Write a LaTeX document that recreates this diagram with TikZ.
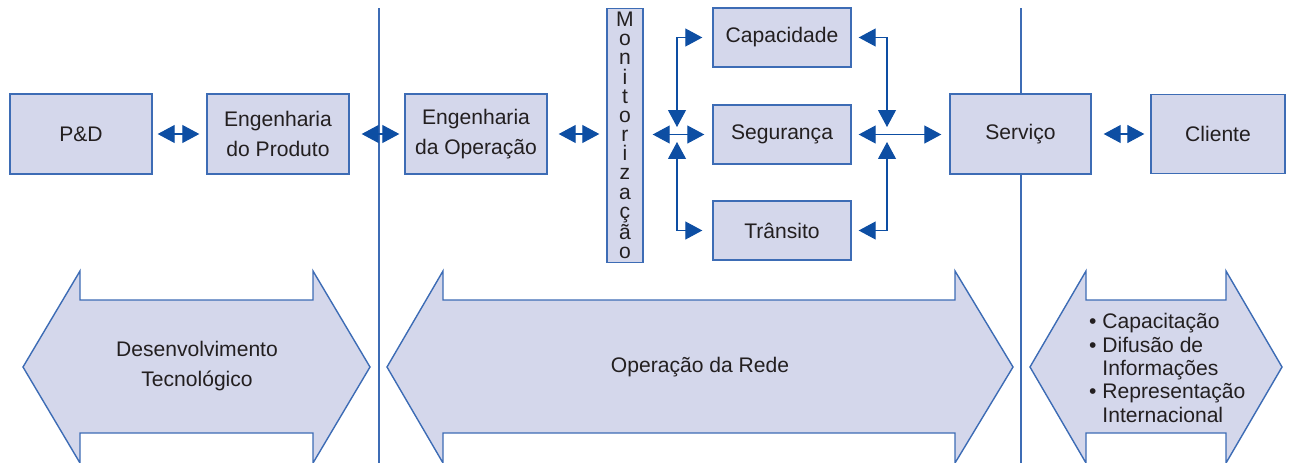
\documentclass[tikz,border=0pt]{standalone}
\usepackage{fontspec}
\setmainfont{Liberation Sans}
\usetikzlibrary{arrows.meta}
\definecolor{boxfill}{HTML}{D4D7EB}
\definecolor{boxline}{HTML}{3D6CB5}
\definecolor{tipblue}{HTML}{0D4EA3}
\definecolor{txt}{HTML}{231F20}
\tikzset{
    box/.style={draw=boxline, fill=boxfill, line width=0.8pt, text=txt, align=center,
        inner sep=0pt, font=\fontsize{12}{17}\selectfont},
    link/.style={draw=tipblue, line width=0.6pt,
        {Triangle[length=0.34cm,width=0.36cm]}-{Triangle[length=0.34cm,width=0.36cm]}},
    band/.style={draw=boxline, fill=boxfill, line width=0.8pt},
    divider/.style={draw=boxline, line width=0.8pt},
    label/.style={text=txt, align=center, font=\fontsize{12}{17.5}\selectfont}
}
\begin{document}
\begin{tikzpicture}[x=0.02cm,y=-0.02cm]
    \useasboundingbox (0,0) rectangle (1291,463);

    % dividers
    \draw[divider] (379,8) -- (379,463);
    \draw[divider] (1021,8) -- (1021,463);

    % block arrows
    \draw[band] (23,367) -- (80,271) -- (80,300) -- (313,300) -- (313,271) -- (370,367)
        -- (313,463) -- (313,433) -- (80,433) -- (80,463) -- cycle;
    \draw[band] (387,367) -- (443,271) -- (443,300) -- (955,300) -- (955,271) -- (1013,367)
        -- (955,463) -- (955,433) -- (443,433) -- (443,463) -- cycle;
    \draw[band] (1030,367) -- (1086,271) -- (1086,300) -- (1226,300) -- (1226,271) -- (1282,367)
        -- (1226,463) -- (1226,433) -- (1086,433) -- (1086,463) -- cycle;

    \node[label] (desenv) at (197,366) {Desenvolvimento\\Tecnológico};
    \node[label] (operacao) at (700,367) {Operação da Rede};
    \node[label, anchor=west, align=left, font=\fontsize{12}{13.3}\selectfont] (acoes) at (1083,368)
        {\textbullet\ Capacitação\\
         \textbullet\ Difusão de\\
         \hphantom{\textbullet\ }Informações\\
         \textbullet\ Representação\\
         \hphantom{\textbullet\ }Internacional};

    % boxes
    \node[box, minimum width=2.84cm, minimum height=1.6cm] (pd) at (81,134) {P\&D};
    \node[box, minimum width=2.84cm, minimum height=1.6cm] (engprod) at (278,134) {Engenharia\\do Produto};
    \node[box, minimum width=2.84cm, minimum height=1.6cm] (engop) at (476,134) {Engenharia\\da Operação};
    \node[box, minimum width=0.72cm, minimum height=5.08cm, font=\fontsize{12}{10.9}\selectfont] (monit) at (625,135.5)
        {M\\o\\n\\i\\t\\o\\r\\i\\z\\a\\ç\\ã\\o};
    \node[box, minimum width=2.76cm, minimum height=1.18cm] (cap) at (782,37.5) {Capacidade};
    \node[box, minimum width=2.76cm, minimum height=1.18cm] (seg) at (782,134.5) {Segurança};
    \node[box, minimum width=2.76cm, minimum height=1.18cm] (tra) at (782,230.5) {Trânsito};
    \node[box, minimum width=2.82cm, minimum height=1.6cm] (serv) at (1020.5,134) {Serviço};
    \node[box, minimum width=2.68cm, minimum height=1.58cm] (cli) at (1218,134) {Cliente};

    % junctions
    \coordinate (jl) at (677,134.5);
    \coordinate (jr) at (887,134.5);

    % connectors
    \draw[link, shorten <=0.1cm, shorten >=0.14cm] (pd) -- (engprod);
    \draw[link, shorten <=0.24cm, shorten >=0.1cm] (engprod) -- (engop);
    \draw[link, shorten <=0.22cm, shorten >=0.14cm] (engop) -- (engop -| monit.west);
    \draw[link, shorten <=0.18cm, shorten >=0.16cm] (monit.east |- seg.west) -- (seg.west);
    \draw[link, shorten <=0.2cm, shorten >=0.15cm] (cap.west) -| (jl);
    \draw[link, shorten <=0.2cm, shorten >=0.15cm] (tra.west) -| (jl);
    \draw[link, shorten <=0.14cm, shorten >=0.15cm] (cap.east) -| (jr);
    \draw[link, shorten <=0.14cm, shorten >=0.15cm] (tra.east) -| (jr);
    \draw[link, shorten <=0.14cm, shorten >=0.16cm] (seg.east) -- (serv.west |- seg.east);
    \draw[link, shorten <=0.24cm, shorten >=0.12cm] (serv) -- (cli);
\end{tikzpicture}
\end{document}
